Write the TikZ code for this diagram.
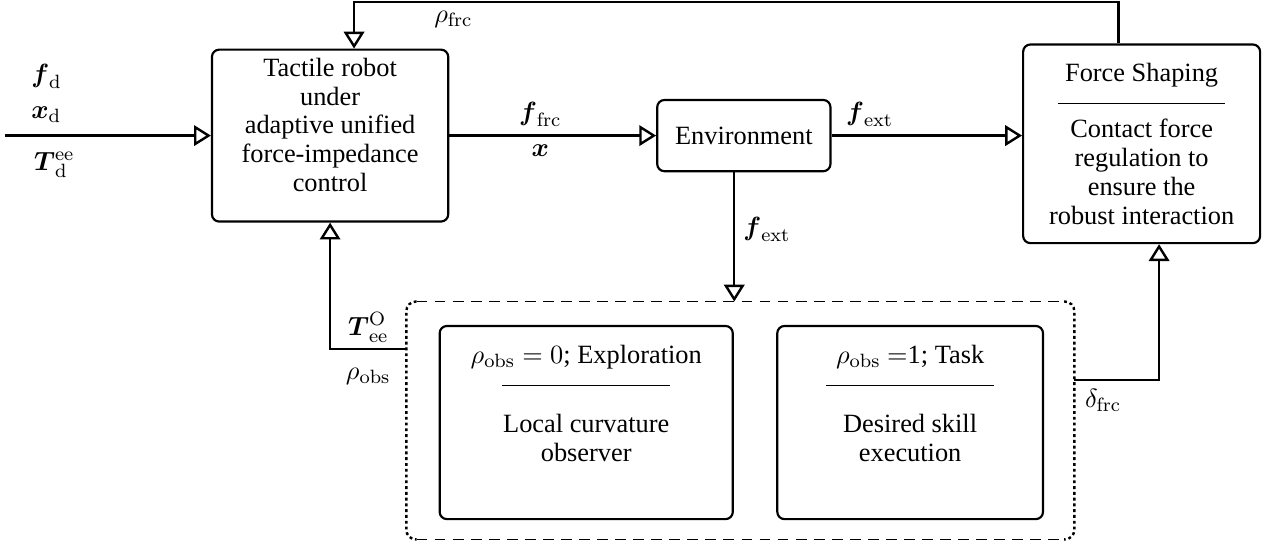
\documentclass[tikz,border=0pt]{standalone}
\usepackage{amsmath,amssymb}
\usepackage[no-math]{fontspec}
\setmainfont{Liberation Serif}
\usepackage{tikz}
\usetikzlibrary{arrows.meta,positioning,calc}

\newcommand{\sepline}{\rule{69.6pt}{0.55pt}}

\begin{document}
\begin{tikzpicture}[
  font=\fontsize{10.95}{12}\selectfont,
  block/.style={draw, line width=0.9pt, rounded corners=3pt, align=center, inner sep=2pt},
  arr/.style={-{Triangle[open, length=7pt, width=8.5pt]}, line width=1pt},
  grpdash/.style={dash pattern=on 4.5pt off 3pt, semithick},
  grpdot/.style={dash pattern=on 1.2pt off 1.2pt, line width=1pt}
]
\useasboundingbox (0,0) rectangle (18.53,7.99);

\node[block, minimum width=3.45cm, minimum height=2.51cm] (robot) at (4.82,6.01) {Tactile robot\\ under\\ adaptive unified\\ force-impedance\\ control\\[-3pt]\mbox{}};
\node[block, minimum width=2.53cm, minimum height=1.04cm, right=3.02cm of robot] (env) {Environment};
\node[block, minimum width=3.46cm, minimum height=2.9cm] (force) at (16.67,5.89) {Force Shaping\\[-2.5pt] \sepline\\[2pt] Contact force\\ regulation to\\ ensure the\\ robust interaction};

% observer group
\node[minimum width=9.74cm, minimum height=3.46cm] (grp) at (10.81,1.85) {};
\node[block, minimum width=4.28cm, minimum height=2.82cm] (explore) at (8.56,1.82) {$\rho_{\mathrm{obs}}=0$; Exploration\\[-2.5pt] \sepline\\[7.5pt] Local curvature\\ observer\\[4pt]\mbox{}};
\node[block, minimum width=3.88cm, minimum height=2.82cm] (task) at (13.29,1.82) {$\rho_{\mathrm{obs}}$ $=$1; Task\\[-2.5pt] \sepline\\[7.5pt] Desired skill\\ execution\\[4pt]\mbox{}};
\draw[grpdot, rounded corners=4pt] ([xshift=1.5mm]grp.north west) -- (grp.north west) -- (grp.south west) -- ([xshift=1.5mm]grp.south west);
\draw[grpdot, rounded corners=4pt] ([xshift=-1.5mm]grp.north east) -- (grp.north east) -- (grp.south east) -- ([xshift=-1.5mm]grp.south east);
\draw[grpdash] ([xshift=1.5mm]grp.north west) -- ([xshift=-1.5mm]grp.north east);
\draw[grpdash] ([xshift=1.5mm]grp.south west) -- ([xshift=-1.5mm]grp.south east);

% inputs
\coordinate (in) at (0.07,6.01);
\draw[arr] (in) -- (robot.west);
\node[anchor=base west, inner sep=0] (fd) at (0.45,6.79) {$\boldsymbol{f}_{\mathrm{d}}$};
\node[anchor=base west, inner sep=0] (xd) at (0.45,6.26) {$\boldsymbol{x}_{\mathrm{d}}$};
\node[anchor=base west, inner sep=0] (Td) at (0.49,5.5) {$\boldsymbol{T}_{\mathrm{d}}^{\mathrm{ee}}$};

% forward path
\draw[arr] (robot.east) -- node[pos=0.44, above] (ffrc) {$\boldsymbol{f}_{\mathrm{frc}}$} node[pos=0.44, below] (xpos) {$\boldsymbol{x}$} (env.west);
\draw[arr] (env.east) -- node[pos=0.2, above] (fext) {$\boldsymbol{f}_{\mathrm{ext}}$} (env.east -| force.west);
\draw[arr] ([xshift=-1.4mm]env.south) -- node[pos=0.44, right] (fextdown) {$\boldsymbol{f}_{\mathrm{ext}}$} ([xshift=-1.4mm]env.south |- grp.north);

% feedback
\coordinate (frcup) at (5.17,7.96);
\draw[arr] ([xshift=-3.4mm]force.north) |- node[pos=0.935, below] (rfrc) {$\rho_{\mathrm{frc}}$} (frcup) -- (frcup |- robot.north);
\draw[arr] ([yshift=10.4mm]grp.west) -| node[pos=0.25, above, yshift=-1pt] (Tobs) {$\boldsymbol{T}_{\mathrm{ee}}^{\mathrm{O}}$} node[pos=0.25, below, yshift=-4pt] (robs) {$\rho_{\mathrm{obs}}$} (robot.south);
\draw[arr] ([yshift=5.9mm]grp.east) -| node[pos=0.17, below] (dfrc) {$\delta_{\mathrm{frc}}$} ([xshift=2.55mm]force.south);
\end{tikzpicture}
\end{document}
